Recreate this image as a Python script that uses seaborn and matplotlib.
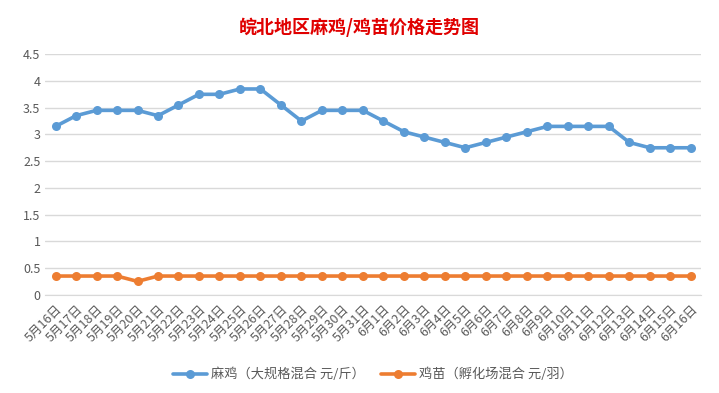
import matplotlib.pyplot as plt
import seaborn as sns

# === 数据 ===
dates = ['5月16日', '5月17日', '5月18日', '5月19日', '5月20日', '5月21日', '5月22日', '5月23日',
         '5月24日', '5月25日', '5月26日', '5月27日', '5月28日', '5月29日', '5月30日', '5月31日',
         '6月1日', '6月2日', '6月3日', '6月4日', '6月5日', '6月6日', '6月7日', '6月8日',
         '6月9日', '6月10日', '6月11日', '6月12日', '6月13日', '6月14日', '6月15日', '6月16日']
maji = [3.15, 3.35, 3.45, 3.45, 3.45, 3.35, 3.55, 3.75, 3.75, 3.85, 3.85, 3.55, 3.25, 3.45, 3.45, 3.45,
        3.25, 3.05, 2.95, 2.85, 2.75, 2.85, 2.95, 3.05, 3.15, 3.15, 3.15, 3.15, 2.85, 2.75, 2.75, 2.75]
jimiao = [0.35, 0.35, 0.35, 0.35, 0.25, 0.35, 0.35, 0.35, 0.35, 0.35, 0.35, 0.35, 0.35, 0.35, 0.35, 0.35,
          0.35, 0.35, 0.35, 0.35, 0.35, 0.35, 0.35, 0.35, 0.35, 0.35, 0.35, 0.35, 0.35, 0.35, 0.35, 0.35]

sns.set_style('white')
plt.rcParams['font.family'] = ['Noto Sans CJK SC', 'DejaVu Sans']

pos = list(range(len(dates)))

fig = plt.figure(figsize=(7.19, 3.93), dpi=100)
ax = fig.add_axes([0.063, 0.25, 0.912, 0.612])

sns.lineplot(x=pos, y=maji, ax=ax, color='#5B9BD5', linewidth=2.6, marker='o',
             markersize=6.5, markeredgewidth=0, label='麻鸡（大规格混合 元/斤）')
sns.lineplot(x=pos, y=jimiao, ax=ax, color='#ED7D31', linewidth=2.6, marker='o',
             markersize=6.5, markeredgewidth=0, label='鸡苗（孵化场混合 元/羽）')

ax.set_xlim(-0.5, len(dates) - 0.5)
ax.set_ylim(0, 4.5)
ax.set_yticks([0, 0.5, 1, 1.5, 2, 2.5, 3, 3.5, 4, 4.5])
ax.set_yticklabels(['0', '0.5', '1', '1.5', '2', '2.5', '3', '3.5', '4', '4.5'])
ax.yaxis.grid(True, color='#D9D9D9', linewidth=1)
ax.set_axisbelow(True)

ax.set_xticks(pos)
ax.set_xticklabels(dates, rotation=45, ha='right', rotation_mode='anchor')
ax.set_xticks([p - 0.5 for p in pos] + [len(dates) - 0.5], minor=True)
ax.tick_params(axis='x', which='major', length=0, pad=6, labelsize=9, colors='#595959')
ax.tick_params(axis='x', which='minor', length=4, color='#D9D9D9', width=1)
ax.tick_params(axis='y', length=0, labelsize=9, colors='#595959')

for side in ['left', 'right', 'top']:
    ax.spines[side].set_visible(False)
ax.spines['bottom'].set_color('#D9D9D9')

ax.set_xlabel('')
ax.set_ylabel('')

fig.suptitle('皖北地区麻鸡/鸡苗价格走势图', x=0.5, y=0.955, color='#E00000',
             fontsize=13, fontweight='bold')

ax.legend(loc='upper center', bbox_to_anchor=(0.5, -0.255), ncol=2, frameon=False,
          fontsize=9.5, labelcolor='#595959', handlelength=2.6, columnspacing=1.2,
          handletextpad=0.3)

plt.savefig('out.png', dpi=100)
